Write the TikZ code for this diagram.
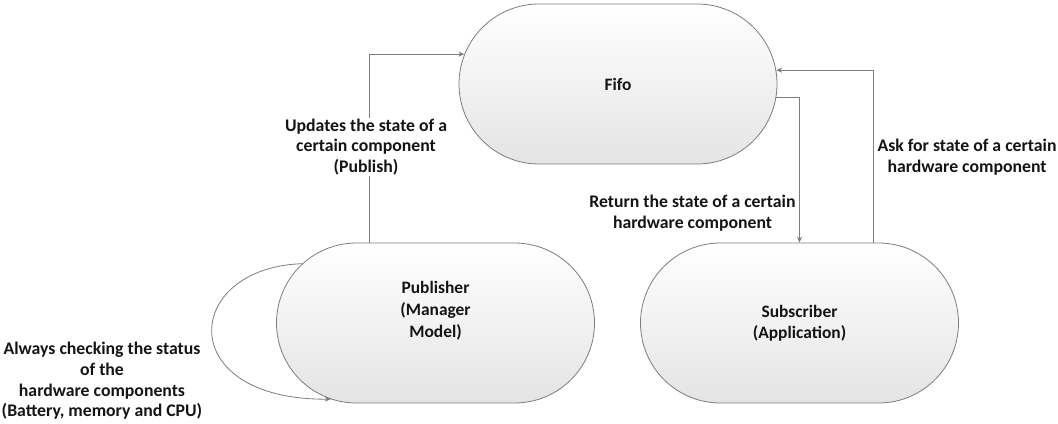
\documentclass[tikz,border=0pt]{standalone}
\usepackage{fontspec}
\setmainfont{Carlito}
\usetikzlibrary{shapes.misc,arrows.meta,calc}

\tikzset{
  stadium/.style={rounded rectangle, draw=linegray, line width=0.8bp,
    minimum width=318bp, minimum height=160bp, inner sep=0pt,
    top color=white, bottom color=boxgray, shading angle=0,
    font=\bfseries\fontsize{17.5}{21}\selectfont, text=textblack, align=center},
  lbl/.style={font=\bfseries\fontsize{17.8}{20.7}\selectfont, text=textblack,
    align=center, inner sep=1bp},
  flow/.style={draw=linegray, line width=0.8bp,
    -{Stealth[length=6bp,width=5bp]}}
}
\definecolor{linegray}{RGB}{125,125,125}
\definecolor{boxgray}{RGB}{228,228,228}
\definecolor{textblack}{RGB}{20,20,20}

\begin{document}
\begin{tikzpicture}[x=1bp,y=-1bp]
  \useasboundingbox (0,0) rectangle (1058,423);

  % the three components
  \node[stadium] (fifo) at (618,84) {Fifo};
  \node[stadium] (pub)  at (435.5,323) {};
  \node[lbl, font=\bfseries\fontsize{17.5}{22}\selectfont] (pubtext) at ($(pub.center)+(0,-12)$) {Publisher\\(Manager\\Model)};
  \node[stadium] (sub)  at (799.5,323) {Subscriber\\(Application)};

  % publisher -> fifo
  \coordinate (pubout) at ($(pub.north)+(-66.5,0)$);
  \draw[flow] (pubout) |- (fifo.169.3);
  \node[lbl, fill=white] (publbl) at (366,147) {Updates the state of a\\certain component\\(Publish)};

  % fifo -> subscriber
  \draw[flow] (fifo.-5.8) -| (sub.north);
  \node[lbl] (retlbl) at (692.5,213) {Return the state of a certain\\hardware component};

  % subscriber -> fifo
  \coordinate (subout) at ($(sub.north)+(73.5,0)$);
  \draw[flow] (subout) |- (fifo.5.8);
  \node[lbl] (asklbl) at (967,157) {Ask for state of a certain\\hardware component};

  % publisher polling loop
  \draw[flow] (pub.156) .. controls +(-120,4) and +(-158,1) .. (pub.216);
  \node[lbl] (looplbl) at (102,381) {Always checking the status\\of the\\hardware components\\(Battery, memory and CPU)};
\end{tikzpicture}
\end{document}
